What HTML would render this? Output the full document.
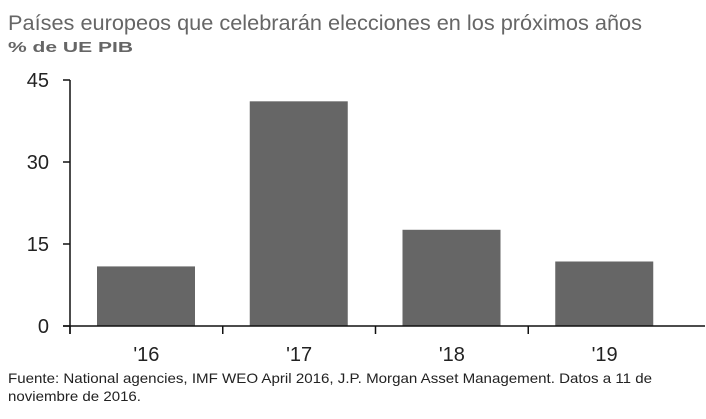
<!DOCTYPE html>
<html><head><meta charset="utf-8"><style>
body{margin:0;background:#fff;width:706px;height:414px;overflow:hidden;font-family:"Liberation Sans",sans-serif}
</style></head><body>
<svg width="706" height="414">
<text x="8" y="30" font-size="21.5" fill="#666" textLength="634" lengthAdjust="spacingAndGlyphs">Países europeos que celebrarán elecciones en los próximos años</text>
<text x="8" y="52" font-size="15" fill="#666" font-weight="bold" textLength="125" lengthAdjust="spacingAndGlyphs">% de UE PIB</text>
<g id="plot"></g>
<text x="8" y="383" font-size="14" fill="#222" textLength="644" lengthAdjust="spacingAndGlyphs">Fuente: National agencies, IMF WEO April 2016, J.P. Morgan Asset Management. Datos a 11 de</text>
<text x="8" y="401" font-size="14" fill="#222" textLength="133" lengthAdjust="spacingAndGlyphs">noviembre de 2016.</text>
</svg>
<script>
const categories=["'16","'17","'18","'19"];
const values=[10.9,41.1,17.6,11.8];
const yTicks=[0,15,30,45];
const NS="http://www.w3.org/2000/svg";
const g=document.getElementById('plot');
const x0=70,x1=681,y0=326,yTop=80,yMax=45;
const y=v=>y0-(v/yMax)*(y0-yTop);
const bw=(x1-x0)/categories.length;
function mk(t,a,p){const e=document.createElementNS(NS,t);for(const k in a)e.setAttribute(k,a[k]);(p||g).appendChild(e);return e;}
categories.forEach((c,i)=>{
 const r=mk('rect',{x:x0+i*bw+27,y:y(values[i]),width:98,height:y0-y(values[i]),fill:'#666'});
 
 
 const t=mk('text',{x:x0+i*bw+bw/2,y:361,'font-size':20,'text-anchor':'middle',fill:'#222'});
 t.textContent=c;
 
 
 const tk=mk('line',{x1:x0+i*bw,x2:x0+i*bw,y1:y0,y2:y0+8,stroke:'#111','stroke-width':1.5});
 
 
});
yTicks.forEach(v=>{
 const l=mk('line',{x1:63,x2:x0,y1:y(v),y2:y(v),stroke:'#111','stroke-width':1.5});
 
 
 const t=mk('text',{x:49,y:y(v)+7,'font-size':20,'text-anchor':'end',fill:'#222'});
 t.textContent=v;
 
 
});
const ya=mk('line',{x1:x0,x2:x0,y1:yTop,y2:y0+8,stroke:'#111','stroke-width':1.5});


const xa=mk('line',{x1:63,x2:705,y1:y0,y2:y0,stroke:'#111','stroke-width':1.5});


</script>
</body></html>
